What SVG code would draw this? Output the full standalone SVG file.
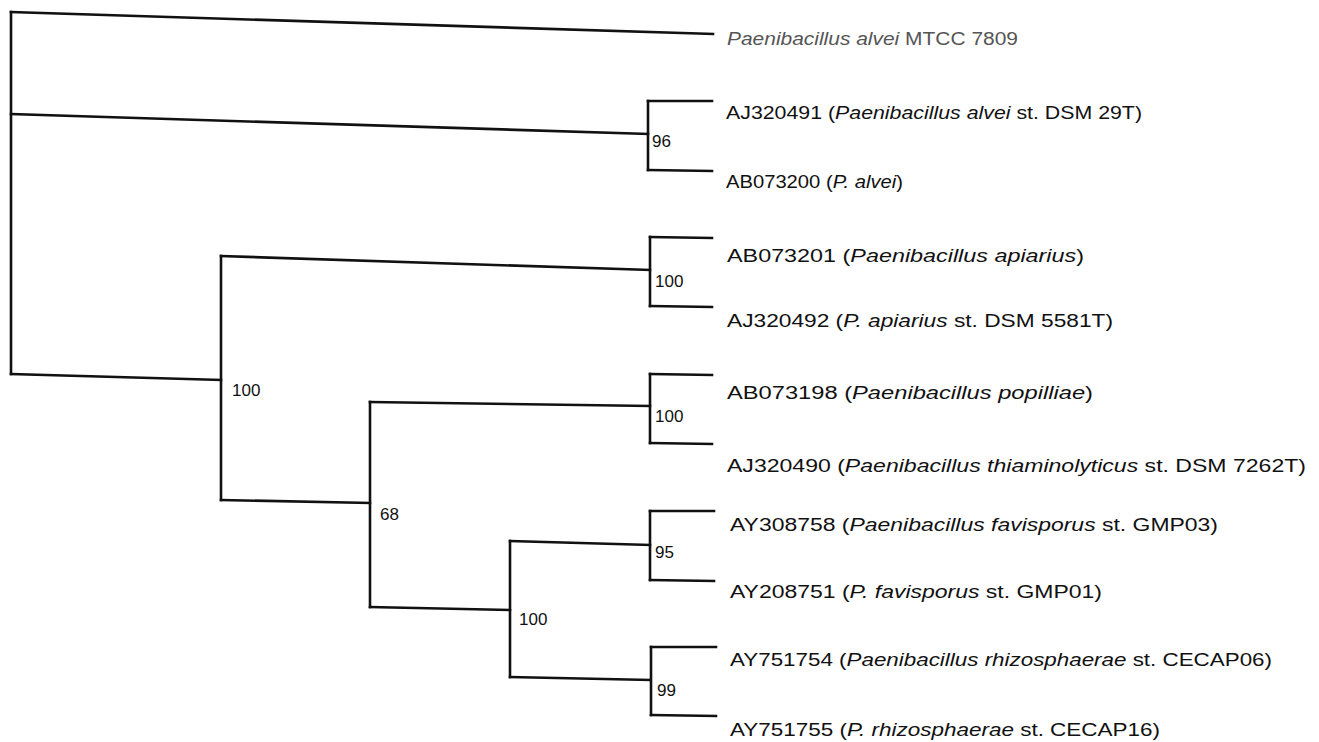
<svg xmlns="http://www.w3.org/2000/svg" width="1319" height="742" viewBox="0 0 1319 742">
<style>
.br{fill:none;stroke:#111;stroke-width:2.6;stroke-linejoin:miter;stroke-linecap:square}
.lab{font-family:"Liberation Sans",Arial,sans-serif;font-size:18px;fill:#111}
.grey{fill:#555}
.bs{font-family:"Liberation Sans",Arial,sans-serif;font-size:17px;fill:#111}
.it{font-style:italic}
</style>
<rect width="1319" height="742" fill="#fff"/>
<g id="connectors">
<path class="br" d="M11,12 L713,34"/>
<path class="br" d="M11,12 L11,374"/>
<path class="br" d="M11,114 L648,134"/>
<path class="br" d="M648,101 L648,170"/>
<path class="br" d="M648,101 L712,101"/>
<path class="br" d="M648,170 L712,171"/>
<path class="br" d="M11,374 L221,380"/>
<path class="br" d="M221,256 L221,500"/>
<path class="br" d="M221,256 L650,270"/>
<path class="br" d="M650,237 L650,306"/>
<path class="br" d="M650,237 L712,238"/>
<path class="br" d="M650,306 L712,307"/>
<path class="br" d="M221,500 L370,503"/>
<path class="br" d="M370,402 L370,607"/>
<path class="br" d="M370,402 L650,406"/>
<path class="br" d="M650,374 L650,443"/>
<path class="br" d="M650,374 L712,375"/>
<path class="br" d="M650,443 L712,444"/>
<path class="br" d="M370,607 L510,610"/>
<path class="br" d="M510,541 L510,677"/>
<path class="br" d="M510,541 L650,545"/>
<path class="br" d="M650,511 L650,580"/>
<path class="br" d="M650,511 L714,511"/>
<path class="br" d="M650,580 L714,581"/>
<path class="br" d="M510,677 L650,680"/>
<path class="br" d="M651,647 L651,715"/>
<path class="br" d="M651,647 L716,647"/>
<path class="br" d="M651,715 L716,716"/>
</g>
<g id="node-mtcc7809"><text class="lab grey" x="727" y="45" textLength="291" lengthAdjust="spacingAndGlyphs"><tspan class="it">Paenibacillus alvei</tspan> MTCC 7809</text></g>
<g id="node-AJ320491"><text class="lab" x="726" y="119" textLength="416" lengthAdjust="spacingAndGlyphs">AJ320491 (<tspan class="it">Paenibacillus alvei</tspan> st. DSM 29T)</text></g>
<g id="node-AB073200"><text class="lab" x="726" y="188" textLength="177" lengthAdjust="spacingAndGlyphs">AB073200 (<tspan class="it">P. alvei</tspan>)</text></g>
<g id="node-AB073201"><text class="lab" x="727" y="262" textLength="357" lengthAdjust="spacingAndGlyphs">AB073201 (<tspan class="it">Paenibacillus apiarius</tspan>)</text></g>
<g id="node-AJ320492"><text class="lab" x="727" y="327" textLength="386" lengthAdjust="spacingAndGlyphs">AJ320492 (<tspan class="it">P. apiarius</tspan> st. DSM 5581T)</text></g>
<g id="node-AB073198"><text class="lab" x="727" y="399" textLength="366" lengthAdjust="spacingAndGlyphs">AB073198 (<tspan class="it">Paenibacillus popilliae</tspan>)</text></g>
<g id="node-AJ320490"><text class="lab" x="727" y="472" textLength="579" lengthAdjust="spacingAndGlyphs">AJ320490 (<tspan class="it">Paenibacillus thiaminolyticus</tspan> st. DSM 7262T)</text></g>
<g id="node-AY308758"><text class="lab" x="730" y="531" textLength="488" lengthAdjust="spacingAndGlyphs">AY308758 (<tspan class="it">Paenibacillus favisporus</tspan> st. GMP03)</text></g>
<g id="node-AY208751"><text class="lab" x="730" y="598" textLength="372" lengthAdjust="spacingAndGlyphs">AY208751 (<tspan class="it">P. favisporus</tspan> st. GMP01)</text></g>
<g id="node-AY751754"><text class="lab" x="730" y="666" textLength="542" lengthAdjust="spacingAndGlyphs">AY751754 (<tspan class="it">Paenibacillus rhizosphaerae</tspan> st. CECAP06)</text></g>
<g id="node-AY751755"><text class="lab" x="730" y="736" textLength="430" lengthAdjust="spacingAndGlyphs">AY751755 (<tspan class="it">P. rhizosphaerae</tspan> st. CECAP16)</text></g>
<g id="bootstrap-96"><text class="bs" x="652" y="147">96</text></g>
<g id="bootstrap-100a"><text class="bs" x="655" y="287">100</text></g>
<g id="bootstrap-100root"><text class="bs" x="232" y="396">100</text></g>
<g id="bootstrap-100b"><text class="bs" x="655" y="422">100</text></g>
<g id="bootstrap-68"><text class="bs" x="380" y="520">68</text></g>
<g id="bootstrap-100c"><text class="bs" x="519" y="625">100</text></g>
<g id="bootstrap-95"><text class="bs" x="655" y="558">95</text></g>
<g id="bootstrap-99"><text class="bs" x="657" y="696">99</text></g>
</svg>
